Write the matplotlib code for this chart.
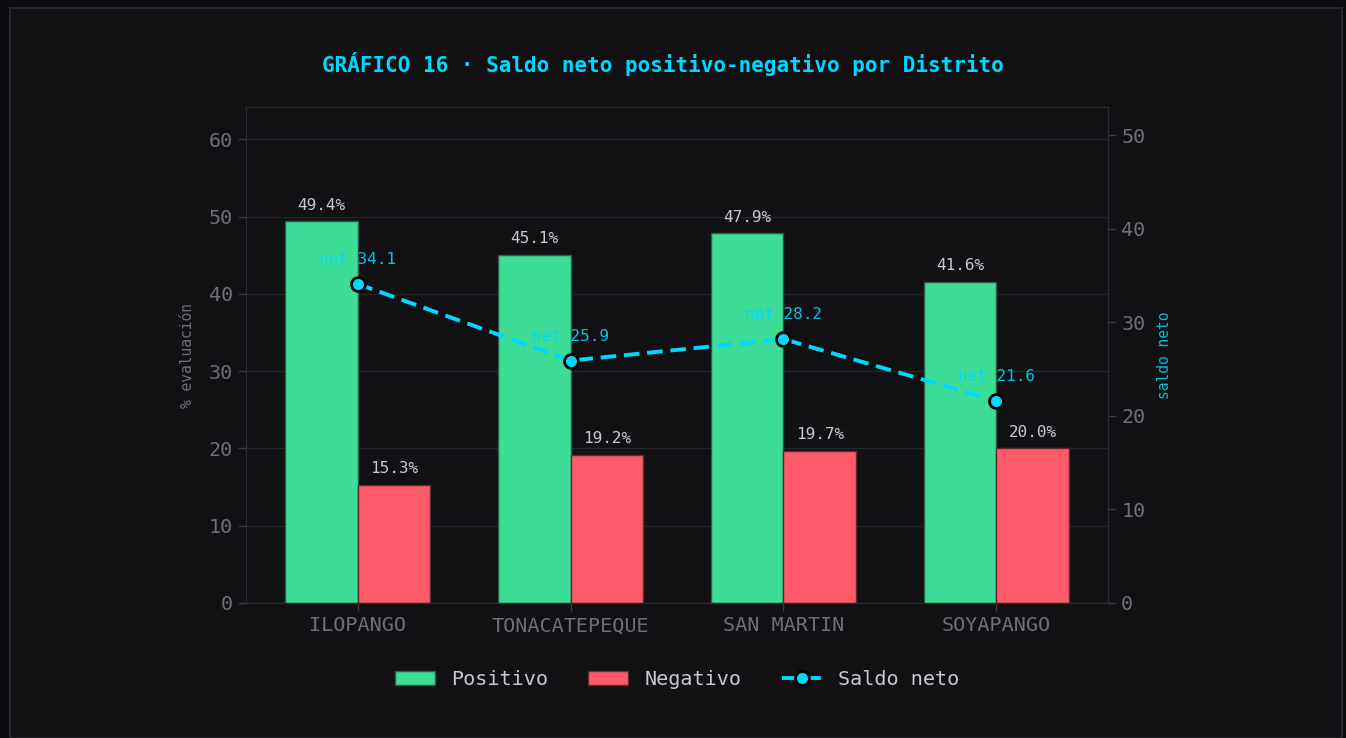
import numpy as np
import matplotlib
matplotlib.use('Agg')
import matplotlib.pyplot as plt
from matplotlib.patches import Rectangle

# ============================================================
# DATA
# ============================================================
districts = ["ILOPANGO", "TONACATEPEQUE", "SAN MARTIN", "SOYAPANGO"]
positivo = [49.4, 45.1, 47.9, 41.6]
negativo = [15.3, 19.2, 19.7, 20.0]
saldo = [34.1, 25.9, 28.2, 21.6]

# ============================================================
# STYLE
# ============================================================
BG = '#111114'
OUTER = '#0c0c0e'
GRID = '#25252b'
TICK = '#6e6e78'
TEXT = '#c8c8d0'
GREEN = '#3ddc97'
RED = '#ff5a6a'
CYAN = '#00d8ff'

plt.rcParams['font.family'] = ['DejaVu Sans Mono']

fig = plt.figure(figsize=(13.46, 7.38), dpi=100, facecolor=OUTER)
# card background
fig.patches.append(Rectangle((10/1346, 0), 1 - 14/1346, 1 - 8/738, transform=fig.transFigure,
                             facecolor=BG, edgecolor='#24242a', linewidth=1.5, zorder=-10))

ax = fig.add_axes([246/1346, 1 - 603/738, (1108-246)/1346, (603-107)/738])
ax.set_facecolor(BG)

x = np.arange(len(districts))
w = 0.34
b1 = ax.bar(x - w/2, positivo, w, color=GREEN, edgecolor='#2a5a48', linewidth=1, label='Positivo', zorder=2)
b2 = ax.bar(x + w/2, negativo, w, color=RED, edgecolor='#5a2a30', linewidth=1, label='Negativo', zorder=2)

for bars, vals in ((b1, positivo), (b2, negativo)):
    for r, v in zip(bars, vals):
        ax.annotate(f'{v:.1f}%', (r.get_x() + r.get_width()/2, v), xytext=(0, 6),
                    textcoords='offset points', ha='center', va='bottom',
                    color=TEXT, fontsize=11.5, zorder=5)

ax.set_ylim(0, 64.2)
ax.set_yticks([0, 10, 20, 30, 40, 50, 60])
ax.set_xticks(x)
ax.set_xticklabels(districts)
ax.tick_params(colors=TICK, labelsize=14.5, length=6, width=1, color='#3a3a42')
ax.grid(axis='y', color=GRID, linewidth=1, zorder=0)
ax.set_axisbelow(True)
for s in ax.spines.values():
    s.set_color('#2a2a30')
ax.set_ylabel('% evaluación', color=TICK, fontsize=10.5, labelpad=10)

ax2 = ax.twinx()
ln, = ax2.plot(x, saldo, '--', color=CYAN, linewidth=2.8, marker='o', markersize=10,
               markerfacecolor=CYAN, markeredgecolor='black', markeredgewidth=2,
               dashes=(4, 2), label='Saldo neto', zorder=4)
for xi, v in zip(x, saldo):
    ax2.annotate(f'net {v:.1f}', (xi, v), xytext=(0, 12), textcoords='offset points',
                 ha='center', va='bottom', color=CYAN, fontsize=11.5, alpha=0.9)
ax2.set_ylim(0, 53)
ax2.set_yticks([0, 10, 20, 30, 40, 50])
ax2.tick_params(colors=TICK, labelsize=14.5, length=6, width=1, color='#3a3a42')
for s in ax2.spines.values():
    s.set_color('#2a2a30')
ax2.set_ylabel('saldo neto', color='#00bcdf', fontsize=10.5, labelpad=8)

fig.text(663/1346, 1 - 64/738, 'GRÁFICO 16 · Saldo neto positivo-negativo por Distrito',
         ha='center', va='center', color=CYAN, fontsize=15, fontweight='bold')

leg = ax.legend([b1, b2, ln], ['Positivo', 'Negativo', 'Saldo neto'], loc='center',
                bbox_to_anchor=(0.5, -0.155), ncol=3, frameon=False, fontsize=14.5,
                labelcolor=TEXT, handlelength=2.0, columnspacing=2.0)

fig.savefig('out.png', dpi=100, facecolor=OUTER)
